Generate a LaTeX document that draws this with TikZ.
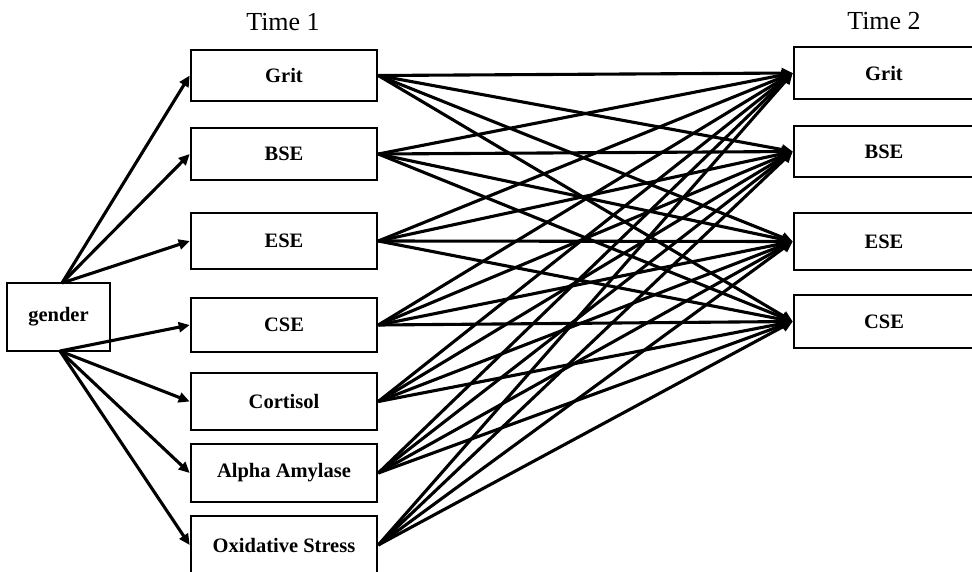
\documentclass[tikz,border=0pt]{standalone}
\usepackage{fontspec}
\setmainfont{Liberation Serif}
\usetikzlibrary{arrows.meta}
\begin{document}
\begin{tikzpicture}[x=1pt,y=-1pt,
  box/.style={draw=black,line width=2.6pt,fill=white,inner sep=0pt,
    font=\fontsize{20.5}{24}\selectfont\bfseries,minimum width=186pt},
  boxb/.style={box,minimum width=180pt},
  arr/.style={line width=3.1pt,-{Triangle[length=11pt,width=10pt]}},
  ttl/.style={font=\fontsize{26}{30}\selectfont}]
\useasboundingbox (0,0) rectangle (972,571);
\clip (0,0) rectangle (972,571);
\fill[white] (0,0) rectangle (972,571);
% titles
\node[ttl] (t1) at (283,22) {Time 1};
\node[ttl] (t2) at (884,21) {Time 2};
% gender
\node[box,minimum width=103pt,minimum height=68pt] (g) at (58.5,317) {gender};
\coordinate (gt) at (62,283);
\coordinate (gb) at (60,351);
% Time 1 boxes
\node[box,minimum height=51pt] (a1) at (284,75.5) {Grit};
\node[box,minimum height=52pt] (a2) at (284,154) {BSE};
\node[box,minimum height=56pt] (a3) at (284,241) {ESE};
\node[box,minimum height=54pt] (a4) at (284,325) {CSE};
\node[box,minimum height=57pt] (a5) at (284,401.5) {Cortisol};
\node[box,minimum height=58pt] (a6) at (284,473) {Alpha Amylase};
\node[box,minimum height=58pt] (a7) at (284,545) {Oxidative Stress};
% Time 2 boxes
\node[boxb,minimum height=52pt] (b1) at (884,73) {Grit};
\node[boxb,minimum height=51pt] (b2) at (884,151.5) {BSE};
\node[boxb,minimum height=57pt] (b3) at (884,241.5) {ESE};
\node[boxb,minimum height=53pt] (b4) at (884,321.5) {CSE};
% gender arrows
\draw[arr] (gt) -- (a1.west);
\draw[arr] (gt) -- (a2.west);
\draw[arr] (gt) -- (a3.west);
\draw[arr] (gb) -- (a4.west);
\draw[arr] (gb) -- (a5.west);
\draw[arr] (gb) -- (a6.west);
\draw[arr] (gb) -- (a7.west);
% cross-lagged arrows
\foreach \i in {1,...,7}{
  \foreach \j in {1,...,4}{
    \draw[arr] (a\i.east) -- (b\j.west);
  }
}
\end{tikzpicture}
\end{document}
